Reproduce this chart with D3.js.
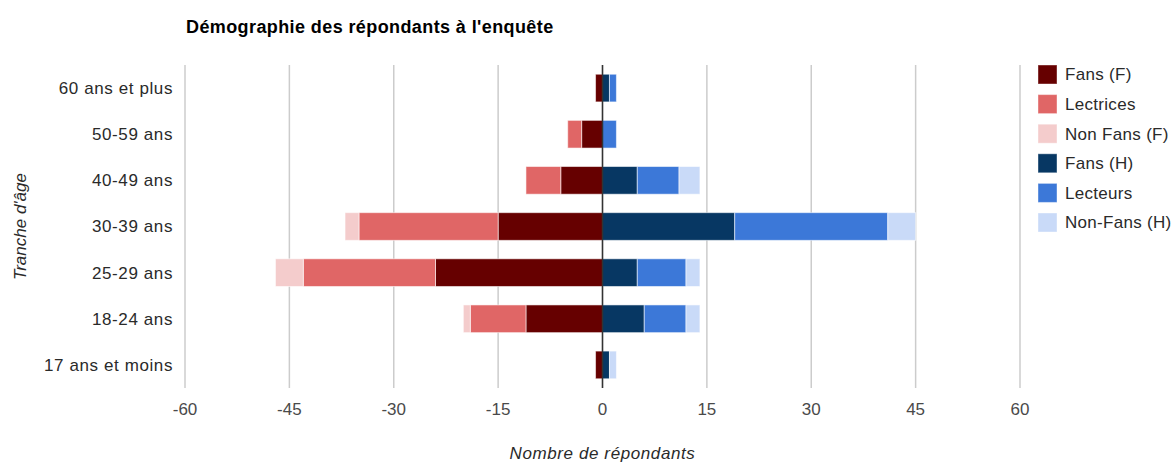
<!DOCTYPE html>
<html>
<head>
<meta charset="utf-8">
<script src="https://cdn.jsdelivr.net/npm/d3@7"></script>
<style>
  body { margin: 0; background: #fff; }
  svg text { font-family: "Liberation Sans", Arial, sans-serif; }
</style>
</head>
<body>
<svg id="chart" width="1176" height="462"></svg>
<script>
// data, women on the left, men on the right
var categories = ["60 ans et plus", "50-59 ans", "40-49 ans", "30-39 ans", "25-29 ans", "18-24 ans", "17 ans et moins"];
var fansF     = [1, 3, 6, 15, 24, 11, 1];
var lectrices = [0, 2, 5, 20, 19, 8, 0];
var nonFansF  = [0, 0, 0, 2, 4, 1, 0];
var fansH     = [1, 0, 5, 19, 5, 6, 1];
var lecteurs  = [1, 2, 6, 22, 7, 6, 0];
var nonFansH  = [0, 0, 3, 4, 2, 2, 1];
var tickValues = [-60, -45, -30, -15, 0, 15, 30, 45, 60];

var seriesNames = ["Fans (F)", "Lectrices", "Non Fans (F)", "Fans (H)", "Lecteurs", "Non-Fans (H)"];
var colors = ["#660000", "#e06666", "#f4cccc", "#073763", "#3c78d8", "#c9daf8"];

var svg = d3.select("svg#chart");
var margin = {top: 65, left: 185, right: 156, bottom: 74};
var width = +svg.attr("width") - margin.left - margin.right;
var height = +svg.attr("height") - margin.top - margin.bottom;

var x = d3.scaleLinear().domain([-60, 60]).range([0, width]);
var y = d3.scaleBand().domain(categories).range([0, height])
    .paddingInner(0.4).paddingOuter(0.2);

var g = svg.append("g").attr("transform", `translate(${margin.left},${margin.top})`);

//title
svg.append("text")
  .attr("x", 186)
  .attr("y", 33)
  .attr("font-size", "18px")
  .attr("font-weight", "bold")
  .attr("letter-spacing", "0.4px")
  .attr("fill", "#000")
  .text("Démographie des répondants à l'enquête");

//gridlines
g.append("g")
  .selectAll("line")
  .data(tickValues)
  .enter().append("line")
  .attr("x1", d => x(d)).attr("x2", d => x(d))
  .attr("y1", 0).attr("y2", height)
  .attr("stroke", "#cccccc")
  .attr("stroke-width", 1.5);

//stacked bars, one group per series
var leftSeries = [fansF, lectrices, nonFansF];
var rightSeries = [fansH, lecteurs, nonFansH];
var stacks = [];
categories.forEach(function(c, i) {
  let lo = 0, hi = 0;
  leftSeries.forEach(function(s, k) {
    if (s[i] > 0) stacks.push({cat: c, k: k, a: -(lo + s[i]), b: -lo});
    lo += s[i];
  });
  rightSeries.forEach(function(s, k) {
    if (s[i] > 0) stacks.push({cat: c, k: k + 3, a: hi, b: hi + s[i]});
    hi += s[i];
  });
});

g.append("g")
  .attr("class", "bars")
  .selectAll("rect")
  .data(stacks)
  .enter().append("rect")
  .attr("x", d => x(d.a))
  .attr("width", d => x(d.b) - x(d.a))
  .attr("y", d => y(d.cat))
  .attr("height", y.bandwidth())
  .attr("fill", d => colors[d.k])
  .attr("stroke", "#ffffff")
  .attr("stroke-opacity", 0.55)
  .attr("stroke-width", 1);

//zero line
g.append("line")
  .attr("x1", x(0)).attr("x2", x(0))
  .attr("y1", 0).attr("y2", height)
  .attr("stroke", "#333333")
  .attr("stroke-width", 1.5);

//x axis labels
g.append("g")
  .selectAll("text")
  .data(tickValues)
  .enter().append("text")
  .attr("x", d => x(d))
  .attr("y", height + 27)
  .attr("text-anchor", "middle")
  .attr("font-size", "17px")
  .attr("fill", "#4a4a4a")
  .text(d => d);

//y axis labels
g.append("g")
  .selectAll("text")
  .data(categories)
  .enter().append("text")
  .attr("x", -12)
  .attr("y", d => y(d) + y.bandwidth() / 2)
  .attr("dy", "0.35em")
  .attr("text-anchor", "end")
  .attr("font-size", "17px")
  .attr("letter-spacing", "0.6px")
  .attr("fill", "#2a2a2a")
  .text(d => d);

//axis titles
svg.append("text")
  .attr("x", margin.left + x(0))
  .attr("y", 459)
  .attr("text-anchor", "middle")
  .attr("font-size", "17px")
  .attr("font-style", "italic")
  .attr("letter-spacing", "0.6px")
  .attr("fill", "#2a2a2a")
  .text("Nombre de répondants");

svg.append("text")
  .attr("transform", `translate(26,${margin.top + height / 2}) rotate(-90)`)
  .attr("text-anchor", "middle")
  .attr("font-size", "17px")
  .attr("font-style", "italic")
  .attr("fill", "#2a2a2a")
  .text("Tranche d'âge");

//legend
var legend = svg.append("g").attr("transform", "translate(1038,65)");
var item = legend.selectAll("g")
  .data(seriesNames)
  .enter().append("g")
  .attr("transform", (d, i) => `translate(0,${i * 29.6})`);
item.append("rect")
  .attr("width", 19).attr("height", 19)
  .attr("fill", (d, i) => colors[i])
  .attr("stroke", "#ffffff")
  .attr("stroke-opacity", 0.4);
item.append("text")
  .attr("x", 27)
  .attr("y", 9.5)
  .attr("dy", "0.35em")
  .attr("font-size", "17px")
  .attr("letter-spacing", "0.3px")
  .attr("fill", "#2a2a2a")
  .text(d => d);
</script>
</body>
</html>
